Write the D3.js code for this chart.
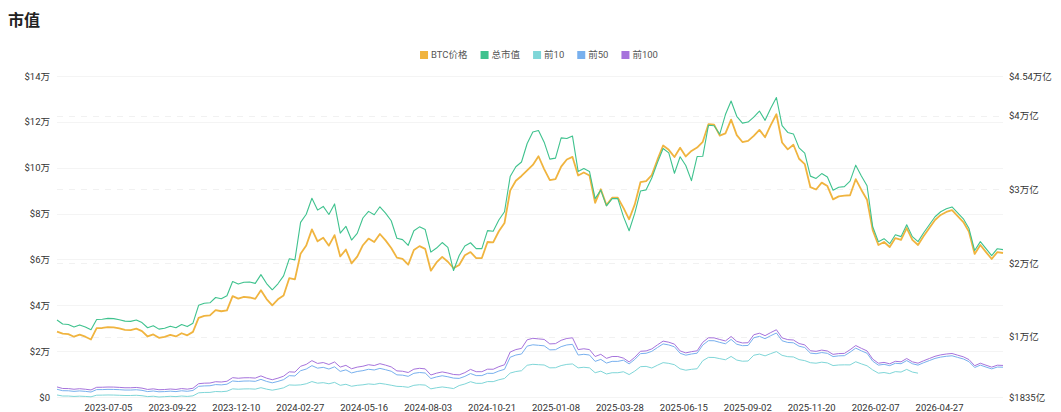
<!DOCTYPE html>
<html><head><meta charset="utf-8">
<script src="https://cdn.jsdelivr.net/npm/d3@7"></script>
<style>
body{margin:0;background:#fff;}
text{font-family:Roboto,"Noto Sans CJK SC","Noto Sans",sans-serif;}
</style>
</head><body><svg id="c" width="1061" height="412"></svg>
<script>
// ---- data (weekly samples) ----
const startDate = "2023-05-03";
const stepDays = 7;

const btcPrice = [
28500,27600,27400,26300,27200,26300,25100,30000,30100,30500,
30400,29900,29300,29200,29800,28700,26400,27300,25800,26200,
27100,26400,27800,26900,28400,34500,35400,35600,37900,37400,
37800,44000,42900,43700,43400,42800,46600,42700,40000,42600,
44300,51800,51300,62500,66100,73100,67900,69500,66000,70600,
61300,64300,58300,61200,66200,69100,67600,71100,68300,65000,
60800,60200,57700,64100,65800,64600,55100,58700,61100,59000,
56200,57600,61800,63200,60600,60600,67600,67400,72300,75900,
90000,94300,96400,98800,101200,105000,99400,94600,95000,100500,
103600,104700,96600,97900,96600,84700,90600,83700,86900,86900,
82500,77500,84000,93700,94200,96800,103500,109700,107800,104700,
108700,104900,107300,108800,111300,119000,118800,114000,115000,121000,
114200,111200,111700,113900,116500,113300,118600,123300,111000,108000,
110000,103900,101600,91500,90500,93500,92000,86200,87500,87800,
88000,95000,90300,86000,72800,66300,67600,65400,69300,68500,
73700,68500,66300,70200,73700,77200,79400,80700,81500,78900,
76300,72000,62400,66300,63200,60200,63200,62800];

// total market cap, 万亿 USD
const totalCap = [
1.229,1.174,1.168,1.134,1.162,1.134,1.096,1.235,1.238,1.250,
1.247,1.232,1.213,1.210,1.229,1.194,1.123,1.151,1.105,1.117,
1.145,1.123,1.167,1.139,1.185,1.428,1.456,1.462,1.534,1.518,
1.558,1.750,1.716,1.740,1.745,1.726,1.844,1.723,1.639,1.720,
1.827,2.059,2.044,2.553,2.664,2.881,2.720,2.770,2.661,2.804,
2.407,2.500,2.314,2.404,2.613,2.703,2.657,2.765,2.678,2.576,
2.338,2.319,2.242,2.440,2.493,2.456,2.150,2.205,2.280,2.214,
1.900,2.104,2.234,2.277,2.197,2.197,2.441,2.434,2.586,2.698,
3.175,3.308,3.373,3.624,3.780,3.800,3.642,3.412,3.425,3.700,
3.691,3.725,3.245,3.285,3.245,2.876,2.991,2.777,2.876,2.876,
2.632,2.440,2.678,2.979,2.995,3.156,3.364,3.556,3.497,3.220,
3.444,3.326,3.120,3.447,3.450,3.871,3.865,3.750,4.017,4.200,
3.993,3.900,3.915,3.983,4.064,3.938,4.102,4.248,3.867,3.774,
3.754,3.565,3.494,3.181,3.150,3.216,3.170,2.990,3.030,3.039,
3.113,3.330,3.184,3.051,2.494,2.292,2.332,2.264,2.385,2.360,
2.521,2.360,2.292,2.413,2.521,2.630,2.698,2.738,2.763,2.683,
2.602,2.469,2.171,2.292,2.196,2.103,2.196,2.184];

const top10 = [
.211,.197,.197,.191,.195,.191,.186,.208,.209,.211,
.210,.207,.204,.204,.207,.201,.189,.194,.1835,.188,
.193,.189,.197,.191,.199,.240,.245,.246,.258,.255,
.262,.294,.289,.293,.294,.290,.310,.290,.276,.290,
.308,.347,.344,.348,.363,.393,.371,.378,.363,.382,
.342,.356,.329,.342,.349,.361,.354,.369,.357,.343,
.328,.325,.315,.342,.350,.345,.294,.309,.320,.310,
.298,.339,.360,.391,.369,.369,.393,.392,.417,.435,
.508,.529,.540,.614,.627,.622,.618,.579,.581,.610,
.626,.632,.579,.587,.579,.513,.534,.496,.513,.513,
.526,.488,.535,.595,.599,.577,.615,.650,.640,.622,
.566,.547,.559,.567,.676,.721,.720,.704,.689,.734,
.685,.669,.672,.750,.766,.742,.772,.800,.749,.731,
.727,.691,.677,.649,.642,.656,.646,.610,.618,.620,
.619,.662,.633,.607,.551,.507,.516,.501,.528,.522,
.558,.522,.507,null,null,null,null,null,null,null,
null,null,null,null,null,null,null,null];

const top50 = [
.288,.269,.268,.260,.266,.260,.251,.284,.284,.287,
.286,.283,.278,.278,.282,.274,.257,.265,.254,.257,
.263,.257,.268,.261,.272,.328,.334,.336,.352,.348,
.357,.401,.394,.400,.401,.396,.423,.395,.376,.395,
.419,.473,.469,.540,.563,.609,.575,.586,.563,.593,
.531,.552,.510,.530,.541,.560,.550,.572,.554,.533,
.484,.480,.464,.505,.516,.509,.434,.456,.472,.458,
.440,.436,.463,.502,.474,.474,.505,.504,.536,.559,
.723,.753,.767,.874,.892,.885,.878,.823,.826,.867,
.890,.898,.753,.763,.753,.667,.694,.644,.667,.667,
.683,.633,.694,.772,.777,.803,.855,.904,.890,.865,
.777,.751,.767,.778,.889,.948,.947,.925,.906,.965,
.900,.880,.883,.987,1.007,.975,1.016,1.052,.947,.924,
.919,.873,.855,.779,.771,.787,.776,.732,.742,.744,
.792,.847,.810,.777,.670,.616,.627,.609,.641,.635,
.678,.635,.616,.649,.678,.707,.725,.736,.743,.721,
.700,.663,.584,.616,.590,.565,.590,.588];

const top100 = [
.320,.299,.298,.289,.296,.289,.279,.315,.316,.319,
.318,.314,.309,.309,.313,.304,.286,.294,.282,.285,
.292,.286,.298,.290,.302,.364,.371,.373,.391,.387,
.397,.446,.438,.444,.445,.440,.470,.439,.418,.439,
.466,.525,.521,.600,.626,.677,.639,.651,.625,.659,
.590,.613,.567,.589,.601,.622,.611,.636,.616,.592,
.538,.533,.516,.561,.573,.565,.482,.507,.524,.509,
.489,.484,.514,.558,.527,.527,.561,.560,.595,.621,
.794,.827,.843,.960,.980,.972,.965,.904,.908,.953,
.978,.987,.827,.838,.827,.733,.763,.708,.733,.733,
.711,.659,.723,.804,.809,.836,.891,.942,.927,.901,
.809,.782,.799,.810,.926,.987,.986,.964,.944,1.005,
.938,.917,.920,1.028,1.049,1.016,1.058,1.096,.986,.962,
.957,.909,.891,.811,.803,.820,.808,.762,.773,.775,
.825,.882,.844,.809,.698,.642,.653,.634,.668,.661,
.706,.661,.642,.676,.706,.736,.755,.767,.774,.751,
.729,.691,.608,.642,.615,.589,.615,.612];

const xTickLabels = ["2023-07-05","2023-09-22","2023-12-10","2024-02-27","2024-05-16","2024-08-03",
  "2024-10-21","2025-01-08","2025-03-28","2025-06-15","2025-09-02","2025-11-20","2026-02-07","2026-04-27"];
const leftTicks = [0,20000,40000,60000,80000,100000,120000,140000];
const rightTicks = [0.1835,1,2,3,4,4.54];
const seriesNames = ["BTC价格","总市值","前10","前50","前100"];
const seriesColors = ["#f0b43f","#3fc28e","#7fd6d8","#78b0ee","#a673dc"];

// ---- chart ----
const parse = d3.utcParse("%Y-%m-%d");
const t0 = parse(startDate);
const dates = btcPrice.map((_, i) => d3.utcDay.offset(t0, i * stepDays));

const L = 57, R = 1003, T = 76, B = 397;
const svg = d3.select("#c");

const x = d3.scaleUtc().domain([dates[0], dates[dates.length - 1]]).range([L, R]);
const yL = d3.scaleLinear().domain([0, 140000]).range([B, T]);
const yR = d3.scaleLinear().domain([0.1835, 4.54]).range([B, T]);

// title
svg.append("text").attr("x", 8).attr("y", 26).text("市值")
  .style("font-size", "16px").style("font-weight", "700").attr("fill", "#222")
  .style("font-family", "'Noto Sans CJK SC',sans-serif");

// gridlines (very faint)
svg.append("g").selectAll("line").data(leftTicks).join("line")
  .attr("x1", L).attr("x2", R).attr("y1", d => Math.round(yL(d)) + 0.5).attr("y2", d => Math.round(yL(d)) + 0.5)
  .attr("stroke", "#f4f4f4");
svg.append("g").selectAll("line").data(rightTicks.slice(1, 5)).join("line")
  .attr("x1", L).attr("x2", R).attr("y1", d => Math.round(yR(d)) + 0.5).attr("y2", d => Math.round(yR(d)) + 0.5)
  .attr("stroke", "#f1f1f1").attr("stroke-dasharray", "6,6");

// axes
function styleAxis(g) {
  g.select(".domain").remove();
  g.selectAll(".tick line").remove();
  g.selectAll("text").attr("fill", "#333").style("font-size", "9.5px");
}
svg.append("g").attr("transform", `translate(${L},0)`)
  .call(d3.axisLeft(yL).tickValues(leftTicks).tickSize(0).tickPadding(7)
    .tickFormat(d => d === 0 ? "$0" : "$" + (d / 10000) + "万"))
  .call(styleAxis);
svg.append("g").attr("transform", `translate(${R},0)`)
  .call(d3.axisRight(yR).tickValues(rightTicks).tickSize(0).tickPadding(6)
    .tickFormat(d => d < 1 ? "$" + Math.round(d * 10000) + "亿" : "$" + d + "万亿"))
  .call(styleAxis);
svg.append("g").attr("transform", `translate(0,${B})`)
  .call(d3.axisBottom(x).tickValues(xTickLabels.map(parse)).tickSize(0).tickPadding(7)
    .tickFormat(d3.utcFormat("%Y-%m-%d")))
  .call(styleAxis);

// lines
function drawLine(values, yScale, color, width) {
  const line = d3.line()
    .defined(d => d != null)
    .x((d, i) => x(dates[i]))
    .y(d => yScale(d));
  svg.append("path").datum(values).attr("d", line)
    .attr("fill", "none").attr("stroke", color).attr("stroke-width", width)
    .attr("stroke-linejoin", "round");
}
drawLine(btcPrice, yL, seriesColors[0], 1.8);
drawLine(totalCap, yR, seriesColors[1], 1.1);
drawLine(top10, yR, seriesColors[2], 1);
drawLine(top50, yR, seriesColors[3], 1);
drawLine(top100, yR, seriesColors[4], 1);

// legend
const lg = svg.append("g");
let cx = 0;
seriesNames.forEach((name, i) => {
  const g = lg.append("g").attr("transform", `translate(${cx},0)`);
  g.append("rect").attr("x", 0).attr("y", -4).attr("width", 8).attr("height", 8)
    .attr("fill", seriesColors[i]);
  const t = g.append("text").attr("x", 11).attr("y", 0).attr("dy", "0.35em")
    .text(name).attr("fill", "#555").style("font-size", "9.5px");
  cx += 11 + t.node().getComputedTextLength() + 13;
});
const totalW = cx - 13;
lg.attr("transform", `translate(${539 - totalW / 2},55)`);
</script>
</body></html>
